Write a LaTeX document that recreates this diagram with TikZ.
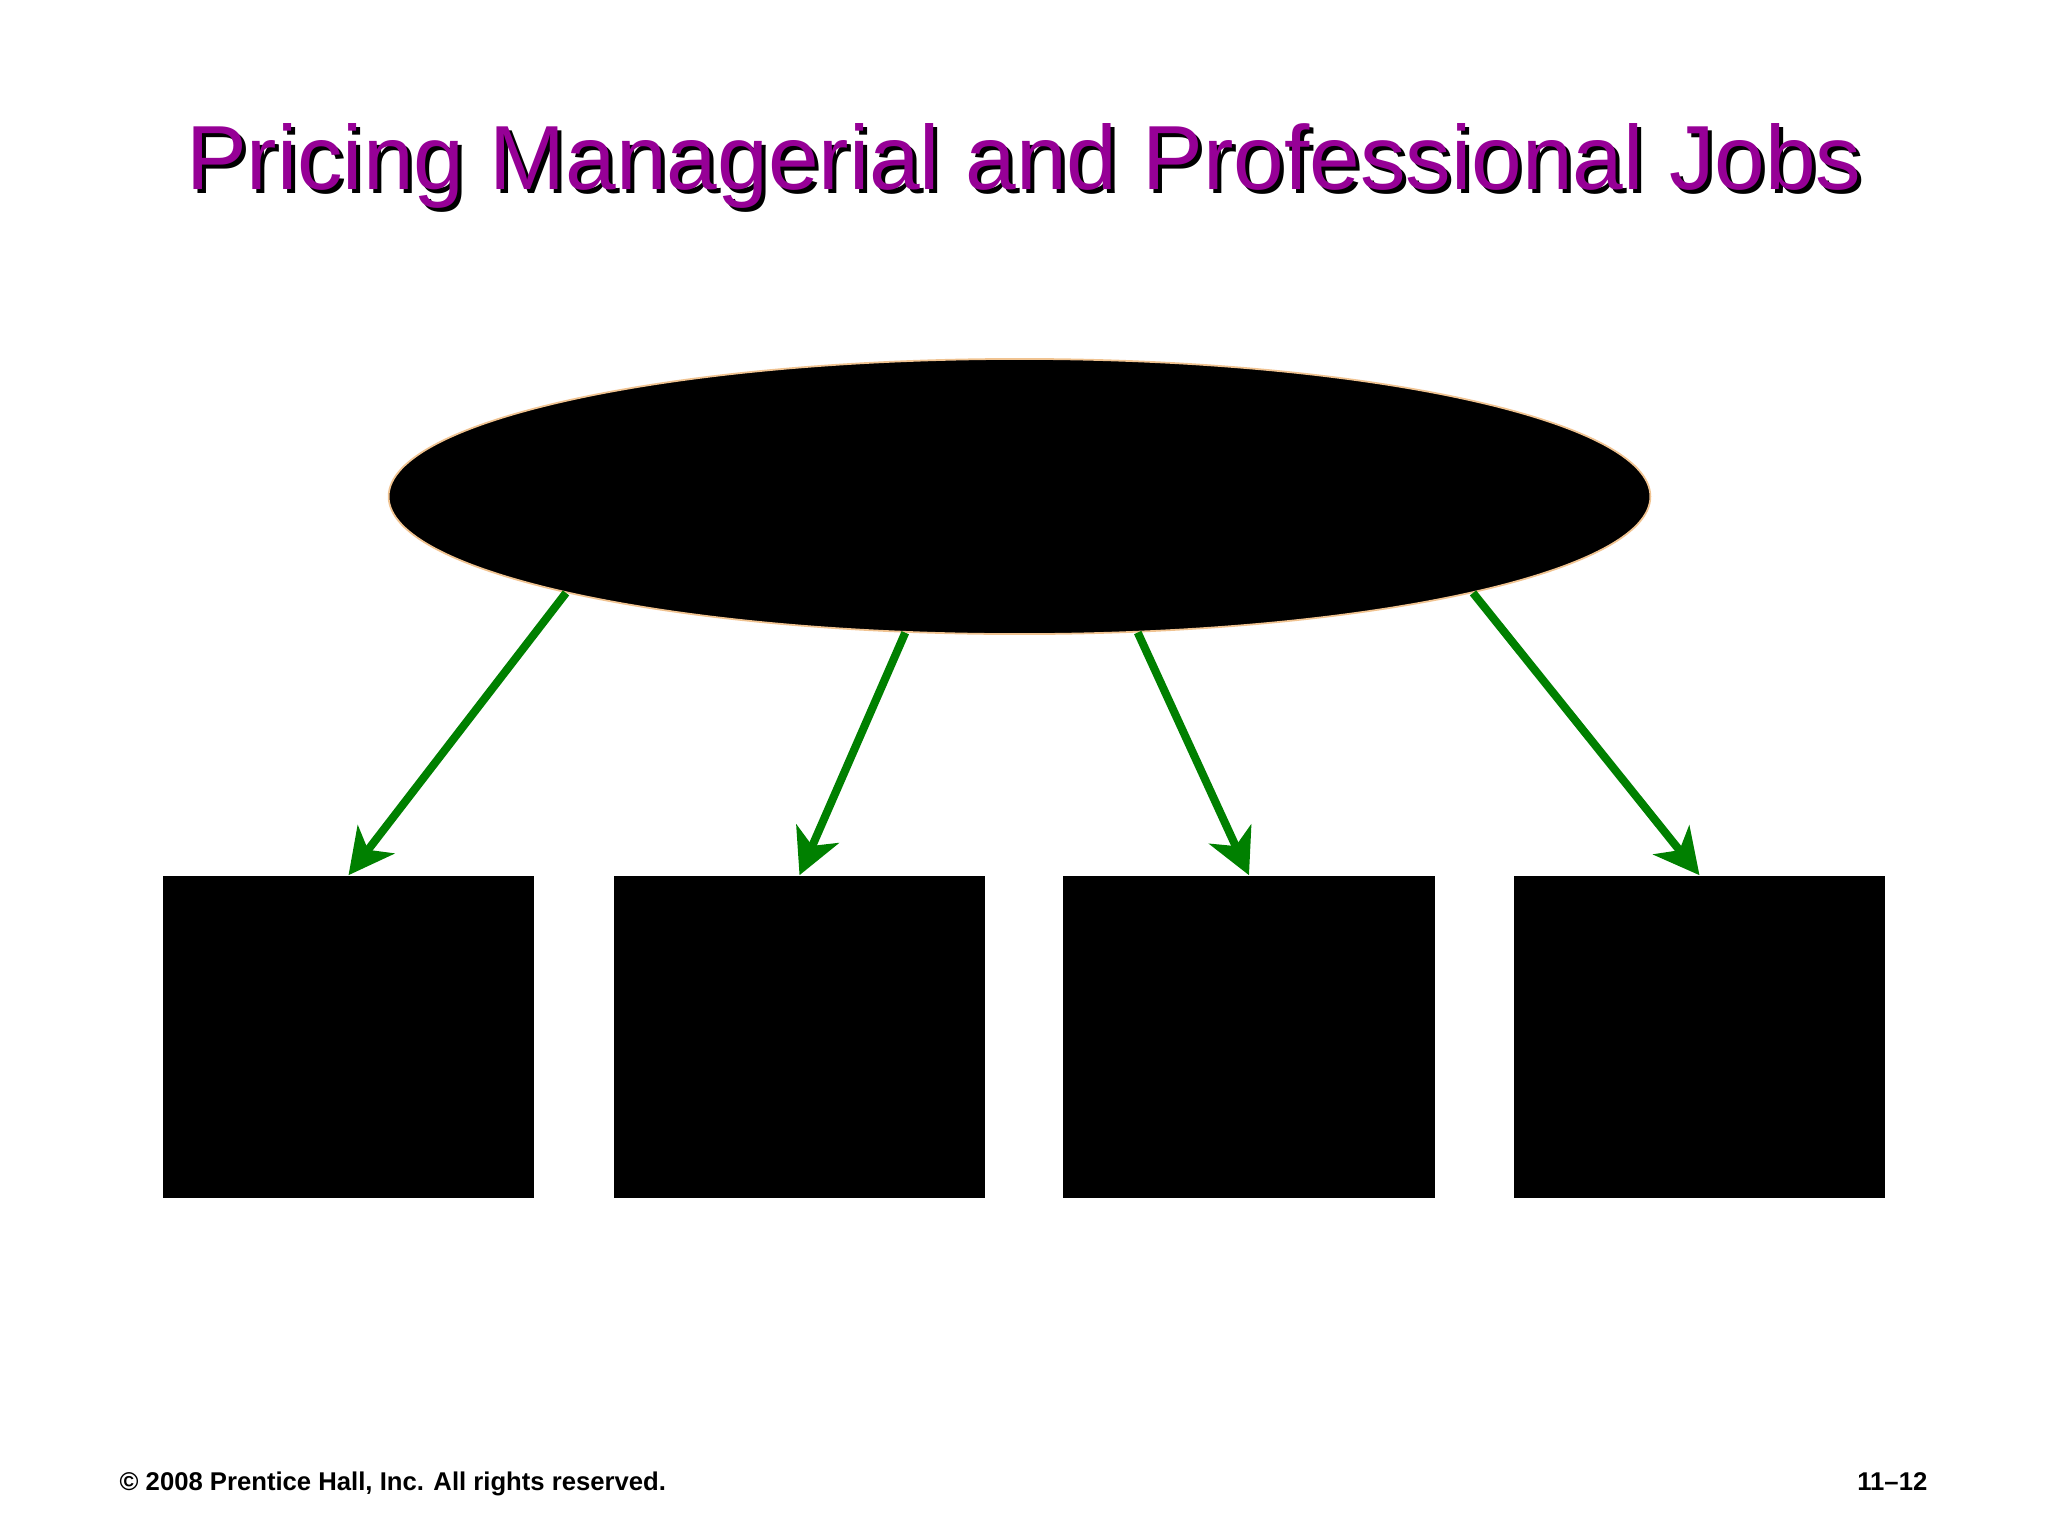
\documentclass[tikz,border=0pt]{standalone}
\usepackage{fontspec}
\setmainfont{Liberation Sans}
\usetikzlibrary{shapes.geometric,arrows.meta}
\definecolor{titlepurple}{RGB}{150,0,150}
\definecolor{arrowgreen}{RGB}{0,128,0}
\definecolor{rimorange}{RGB}{240,195,145}
\begin{document}
\begin{tikzpicture}[x=0.01cm,y=-0.01cm]
			\tikzstyle{box}=[rectangle,fill=black,minimum width=3.71cm,minimum height=3.22cm,inner sep=0pt]
			\tikzstyle{oval}=[ellipse,fill=black,draw=rimorange,line width=0.5pt,minimum width=12.61cm,minimum height=2.75cm,inner sep=0pt]
			\tikzstyle{link}=[color=arrowgreen,line width=2.3pt,-{Stealth[length=0.45cm,width=0.46cm,inset=0.13cm]}]
			\tikzstyle{heading}=[font=\fontsize{25.9}{30}\selectfont,inner sep=0pt,anchor=base]
			\tikzstyle{foot}=[font=\fontsize{7.3}{8}\selectfont\bfseries,inner sep=0pt]
			\useasboundingbox (0,0) rectangle (2048,1536);
			\begin{scope}
			\node[heading,text=black] (titleshadow) at (1028,193) {Pricing Managerial and Professional Jobs};
			\node[heading,text=titlepurple] (title) at (1024,189) {Pricing Managerial and Professional Jobs};
			
			\node[oval] (ell) at (1019.5,496.5) {};
			
			\node[box] (b1) at (348.5,1037) {};
			\node[box] (b2) at (799.5,1037) {};
			\node[box] (b3) at (1249,1037)  {};
			\node[box] (b4) at (1699.5,1037) {};
			
			\node[foot,anchor=base west] (copy) at (119,1490) {\textcopyright{} 2008 Prentice Hall, Inc. All rights reserved.};
			\node[foot,anchor=base east] (page) at (1928,1490) {11--12};
			\end{scope}
			
			\path
			(ell.192.85) edge[link] (b1.north)
			(ell.230)    edge[link] (b2.north)
			(ell.311.2)  edge[link] (b3.north)
			(ell.348.1)  edge[link] (b4.north)
			;
		\end{tikzpicture}
\end{document}
